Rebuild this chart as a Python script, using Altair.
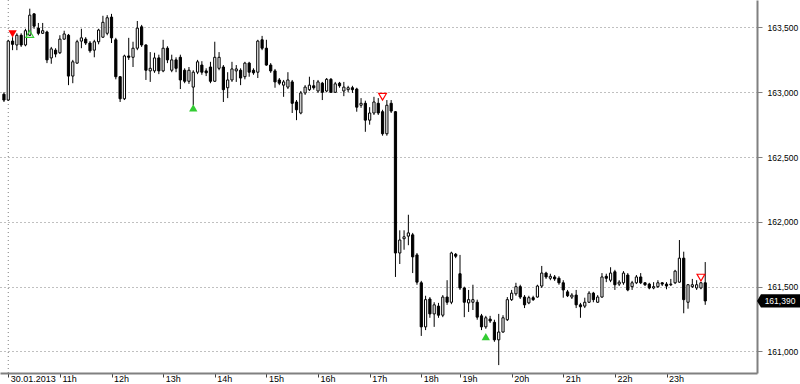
import altair as alt
import pandas as pd

# ---- data (5-minute bars, 30.01.2013) ----
bar_index = list(range(-1, 163))

open_ = [
    162985,162940,163395,163365,163440,163365,163440,163605,163495,163455,
    163465,163265,163325,163305,163410,163440,163125,163225,163395,163410,
    163380,163325,163390,163425,163455,163580,163405,163120,162950,163280,
    163270,163340,163505,163365,163165,163165,163265,163165,163340,163170,
    163250,163270,163170,163085,163040,163155,163210,163165,163195,163085,
    163185,163195,163035,163095,163165,163170,163120,163225,163170,163155,
    163405,163340,163210,163165,163095,163055,163040,163080,162925,162840,
    162995,163020,163050,163010,163070,163010,163100,163000,163070,163010,
    163020,163035,163025,162900,162915,162785,162840,162915,162850,162680,
    162915,162850,161760,161870,161890,161900,161745,161530,161190,161405,
    161290,161350,161280,161420,161380,161750,161600,161490,161375,161380,
    161380,161275,161190,161250,161225,161090,161150,161245,161400,161445,
    161500,161420,161375,161415,161420,161505,161605,161565,161575,161565,
    161530,161460,161420,161435,161360,161350,161380,161450,161380,161420,
    161580,161550,161615,161520,161530,161590,161500,161530,161575,161530,
    161520,161490,161500,161530,161520,161515,161530,161535,161720,161380,
    161500,161490,161490,161530,
]
close = [
    162940,163395,163370,163440,163365,163475,163595,163510,163455,163475,
    163250,163335,163295,163410,163450,163125,163235,163390,163420,163380,
    163320,163390,163480,163540,163575,163420,163120,162950,163280,163270,
    163340,163495,163365,163170,163185,163265,163165,163340,163250,163250,
    163185,163095,163085,163170,163155,163235,163155,163150,163085,163270,
    163270,163020,163095,163180,163180,163110,163225,163155,163150,163395,
    163340,163210,163165,163080,163070,163080,163095,162915,162865,162995,
    163040,163055,163035,163080,163000,163100,163000,163065,163050,163040,
    163035,163020,162885,162915,162785,162840,162925,162840,162680,162900,
    162855,161760,161860,161885,161915,161730,161535,161190,161400,161290,
    161360,161280,161420,161380,161760,161735,161490,161380,161400,161400,
    161265,161190,161260,161235,161090,161150,161260,161400,161450,161500,
    161420,161360,161415,161400,161505,161605,161575,161580,161560,161530,
    161475,161430,161435,161360,161345,161380,161450,161400,161420,161575,
    161565,161605,161515,161535,161605,161475,161530,161575,161530,161515,
    161490,161500,161530,161520,161505,161520,161620,161720,161400,161515,
    161515,161515,161530,161390,
]
high = [
    163000,163405,163425,163455,163455,163490,163645,163610,163535,163535,
    163475,163350,163340,163440,163475,163450,163250,163405,163490,163425,
    163395,163405,163490,163590,163595,163605,163420,163125,163290,163420,
    163390,163550,163520,163370,163310,163305,163290,163405,163355,163290,
    163270,163290,163185,163195,163170,163250,163240,163185,163235,163390,
    163310,163210,163155,163235,163210,163185,163235,163235,163185,163405,
    163435,163405,163225,163180,163110,163095,163155,163095,162940,163010,
    163055,163120,163095,163095,163080,163110,163110,163080,163080,163080,
    163050,163050,163035,162955,162935,162885,162965,162955,162865,162940,
    162940,162855,161935,161935,162055,161915,161760,161545,161430,161420,
    161380,161375,161435,161550,161770,161760,161745,161500,161475,161515,
    161400,161290,161275,161275,161245,161290,161280,161420,161475,161530,
    161515,161435,161430,161430,161515,161660,161615,161600,161590,161580,
    161550,161475,161450,161475,161375,161415,161465,161460,161435,161605,
    161600,161650,161630,161550,161620,161605,161545,161590,161605,161535,
    161530,161535,161550,161535,161535,161560,161630,161860,161770,161520,
    161560,161550,161535,161690,
]
low = [
    162925,162935,163325,163325,163350,163355,163435,163490,163440,163450,
    163225,163220,163270,163295,163405,163055,163070,163220,163340,163365,
    163305,163270,163370,163420,163440,163380,163100,162925,162940,163250,
    163195,163325,163350,163095,163080,163150,163140,163155,163225,163155,
    163155,163025,163070,163065,162900,163140,163135,163125,163070,163080,
    163170,162925,162955,163080,163080,163055,163100,163120,163135,163110,
    163325,163205,163150,163035,163055,162965,163025,162840,162785,162830,
    162980,163010,163020,162995,162940,163000,162995,162995,163035,162970,
    163000,162995,162850,162880,162695,162750,162825,162825,162665,162665,
    162840,161575,161675,161785,161820,161605,161515,161120,161165,161260,
    161190,161260,161265,161360,161365,161720,161475,161265,161305,161320,
    161245,161165,161175,161220,161075,160895,161145,161235,161390,161430,
    161405,161335,161365,161390,161415,161490,161560,161550,161545,161515,
    161415,161420,161405,161335,161260,161335,161375,161380,161375,161415,
    161535,161535,161475,161505,161515,161465,161475,161520,161520,161505,
    161480,161480,161490,161505,161480,161505,161520,161530,161295,161330,
    161490,161475,161480,161360,
]

# signal markers
marker_index = [1, 5, 43, 87, 111, 161]
marker_price = [163450, 163450, 162880, 162965, 161115, 161570]
marker_shape = ["triangle-down", "triangle-up", "triangle-up", "triangle-down", "triangle-up", "triangle-down"]
marker_color = ["#ff0000", "#33cc33", "#33cc33", "#ff0000", "#33cc33", "#ff0000"]
marker_filled = [True, False, True, False, True, False]

# axis ticks
y_ticks = [161000, 161500, 162000, 162500, 163000, 163500]
x_tick_index = [0, 12, 24, 36, 48, 60, 72, 84, 96, 105, 117, 129, 141, 153]
x_tick_label = ["30.01.2013", "11h", "12h", "13h", "14h", "15h", "16h", "17h",
                "18h", "19h", "20h", "21h", "22h", "23h"]
day_start_index = [0]

bars = pd.DataFrame({"i": bar_index, "open": open_, "close": close, "high": high, "low": low})
marks = pd.DataFrame({"i": marker_index, "price": marker_price, "shape": marker_shape,
                      "color": marker_color, "filled": marker_filled})
last = bars.tail(1)

label_expr = "".join(f"datum.value === {v} ? '{t}' : " for v, t in zip(x_tick_index, x_tick_label)) + "''"

FONT = "Liberation Sans"
GRAY = "#808080"

xscale = alt.Scale(domain=[-0.757, 172.87], nice=False, zero=False)
yscale = alt.Scale(domain=[160834, 163712], nice=False, zero=False)

x_axis = alt.Axis(values=x_tick_index, labelExpr=label_expr, grid=False, title=None,
                  domainColor=GRAY, domainWidth=2, tickColor="#404040", tickSize=4,
                  labelAlign="left", labelBaseline="top", labelPadding=-3, labelOffset=2,
                  labelFont=FONT, labelFontSize=9, labelColor="#000000",
                  labelOverlap=False, labelFlush=False, labelBound=False)
y_axis = alt.Axis(orient="right", values=y_ticks, format=",d", title=None,
                  grid=True, gridDash=[1, 3], gridColor=GRAY, gridWidth=1,
                  domainColor=GRAY, domainWidth=2, tickColor=GRAY, tickSize=5,
                  labelPadding=5, labelFont=FONT, labelFontSize=8.5, labelColor="#000000")


def X(field):
    return alt.X(field, scale=xscale, axis=x_axis)


def Y(field):
    return alt.Y(field, scale=yscale, axis=y_axis)


vline = alt.Chart(pd.DataFrame({"i": day_start_index})).mark_rule(
    color=GRAY, strokeDash=[1, 3], strokeWidth=1
).encode(x=X("i:Q"))

wicks = alt.Chart(bars).mark_rule(color="#000000", strokeWidth=1).encode(
    x=X("i:Q"), y=Y("low:Q"), y2="high:Q",
)

bodies = alt.Chart(bars).mark_bar(width=2.2, stroke="#000000", strokeWidth=1).encode(
    x=X("i:Q"), y=Y("open:Q"), y2="close:Q",
    fill=alt.condition("datum.close >= datum.open", alt.value("#ffffff"), alt.value("#000000")),
)

filled_marks = alt.Chart(marks).transform_filter("datum.filled").mark_point(
    filled=True, size=70, opacity=1, strokeWidth=0
).encode(
    x=X("i:Q"), y=Y("price:Q"),
    shape=alt.Shape("shape:N", scale=None),
    fill=alt.Fill("color:N", scale=None),
)
hollow_marks = alt.Chart(marks).transform_filter("!datum.filled").mark_point(
    filled=False, size=60, opacity=1, strokeWidth=1.2
).encode(
    x=X("i:Q"), y=Y("price:Q"),
    shape=alt.Shape("shape:N", scale=None),
    stroke=alt.Stroke("color:N", scale=None),
)

tag = alt.Chart(last).mark_point(
    shape="M-1,0L-0.82,-0.3L1,-0.3L1,0.3L-0.82,0.3Z", size=1936, filled=True,
    color="#000000", opacity=1, strokeWidth=0
).encode(x=alt.value(779), y=Y("close:Q"))
tag_text = alt.Chart(last).mark_text(
    color="#ffffff", font=FONT, fontSize=8.5, align="center", baseline="middle", dx=1
).encode(x=alt.value(779), y=Y("close:Q"), text=alt.Text("close:Q", format=",d"))

chart = alt.layer(vline, wicks, bodies, filled_marks, hollow_marks, tag, tag_text).properties(
    width=757, height=373,
    padding={"left": 0, "top": 0, "right": 43, "bottom": 11},
    autosize=alt.AutoSizeParams(type="none"),
    background="#ffffff"
).configure_view(stroke=None)

chart.save("out.html", embed_options={"renderer": "svg", "actions": False})
